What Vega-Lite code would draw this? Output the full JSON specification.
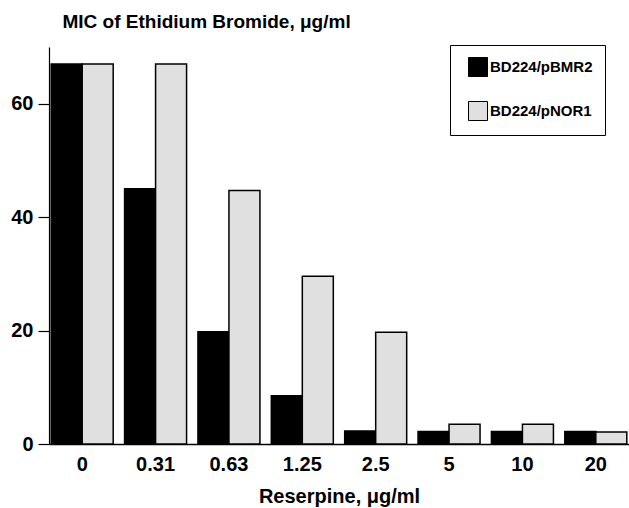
{
  "$schema": "https://vega.github.io/schema/vega-lite/v6.json",
  "autosize": "none",
  "width": 580,
  "height": 397,
  "padding": {"left": 49, "top": 47, "right": 0, "bottom": 64},
  "background": "white",
  "config": {
    "view": {"stroke": null},
    "font": "Liberation Sans",
    "axis": {"grid": false, "domainColor": "black", "tickColor": "black", "labelColor": "black", "titleColor": "black", "domainWidth": 1.5, "tickWidth": 1.2}
  },
  "data": {
    "values": [
      {"reserpine": "0", "strain": "BD224/pBMR2", "mic": 67},
      {"reserpine": "0", "strain": "BD224/pNOR1", "mic": 67},
      {"reserpine": "0.31", "strain": "BD224/pBMR2", "mic": 45},
      {"reserpine": "0.31", "strain": "BD224/pNOR1", "mic": 67},
      {"reserpine": "0.63", "strain": "BD224/pBMR2", "mic": 19.8},
      {"reserpine": "0.63", "strain": "BD224/pNOR1", "mic": 44.7},
      {"reserpine": "1.25", "strain": "BD224/pBMR2", "mic": 8.5},
      {"reserpine": "1.25", "strain": "BD224/pNOR1", "mic": 29.6},
      {"reserpine": "2.5", "strain": "BD224/pBMR2", "mic": 2.3},
      {"reserpine": "2.5", "strain": "BD224/pNOR1", "mic": 19.7},
      {"reserpine": "5", "strain": "BD224/pBMR2", "mic": 2.2},
      {"reserpine": "5", "strain": "BD224/pNOR1", "mic": 3.5},
      {"reserpine": "10", "strain": "BD224/pBMR2", "mic": 2.2},
      {"reserpine": "10", "strain": "BD224/pNOR1", "mic": 3.5},
      {"reserpine": "20", "strain": "BD224/pBMR2", "mic": 2.2},
      {"reserpine": "20", "strain": "BD224/pNOR1", "mic": 2.1}
    ]
  },
  "mark": {"type": "bar", "stroke": "black", "strokeWidth": 1.5},
  "encoding": {
    "x": {
      "field": "reserpine",
      "type": "nominal",
      "sort": null,
      "scale": {"paddingInner": 0.155, "paddingOuter": 0.03},
      "axis": {
        "title": "Reserpine, μg/ml",
        "labelAngle": 0,
        "ticks": false,
        "labelPadding": 10,
        "labelFontSize": 20,
        "labelFontWeight": "bold",
        "titleFontSize": 20,
        "titleFontWeight": "bold",
        "titlePadding": 12
      }
    },
    "xOffset": {"field": "strain", "type": "nominal", "scale": {"paddingInner": 0, "paddingOuter": 0}},
    "y": {
      "field": "mic",
      "type": "quantitative",
      "scale": {"domain": [0, 70], "nice": false},
      "axis": {
        "values": [0, 20, 40, 60],
        "tickSize": 11,
        "labelPadding": 5,
        "labelFontSize": 20,
        "labelFontWeight": "bold",
        "domainWidth": 1.2,
        "title": "MIC of Ethidium Bromide, μg/ml",
        "titleAngle": 0,
        "titleAlign": "left",
        "titleBaseline": "alphabetic",
        "titleX": 13,
        "titleY": -20,
        "titleFontSize": 19,
        "titleFontWeight": "bold"
      }
    },
    "fill": {
      "field": "strain",
      "type": "nominal",
      "scale": {"domain": ["BD224/pBMR2", "BD224/pNOR1"], "range": ["#000000", "#e0e0e0"]},
      "legend": {
        "title": null,
        "orient": "none",
        "legendX": 401,
        "legendY": -2,
        "symbolType": "square",
        "symbolSize": 361,
        "symbolStrokeColor": "black",
        "symbolStrokeWidth": 1,
        "symbolOffset": 6,
        "labelFontSize": 15,
        "labelFontWeight": "bold",
        "labelColor": "black",
        "labelOffset": 2,
        "rowPadding": 20,
        "strokeColor": "black",
        "fillColor": "white",
        "padding": 12
      }
    }
  }
}
